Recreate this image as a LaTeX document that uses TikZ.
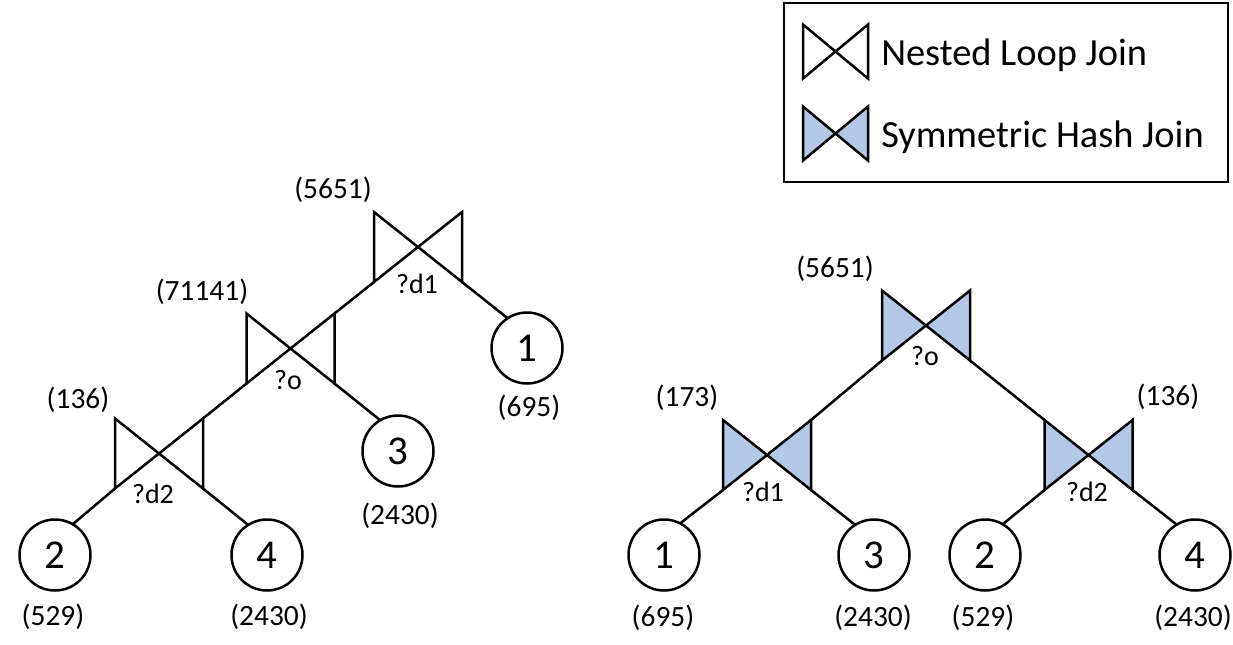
\documentclass[tikz,border=0pt]{standalone}
\usepackage{fontspec}
\setmainfont{Carlito}
\definecolor{shj}{HTML}{B4C7E7}
\newcommand\drawbt[2][white]{\draw[fill=#1,line join=miter] (#2.north west) -- (#2.south east) -- (#2.north east) -- (#2.south west) -- cycle;}
\begin{document}
\begin{tikzpicture}[x=0.5pt,y=-0.5pt, line width=1.25pt,
 bt/.style={minimum width=44pt,minimum height=35pt,inner sep=0pt,outer sep=0pt},
 lbt/.style={minimum width=32.5pt,minimum height=27pt,inner sep=0pt,outer sep=0pt},
 rel/.style={circle,draw,minimum size=35.5pt,inner sep=0pt,outer sep=0pt,font=\fontsize{20.5}{24}\selectfont},
 cnt/.style={font=\fontsize{14.7}{18}\selectfont,inner sep=0pt},
 var/.style={font=\fontsize{14}{17}\selectfont,inner sep=0pt},
 leg/.style={font=\fontsize{19.2}{23}\selectfont,anchor=base west,inner sep=0pt}]
\useasboundingbox (0,0) rectangle (1233,644);

% legend
\node (legend) [draw, minimum width=222pt, minimum height=89.5pt, inner sep=0pt] at (1006,92.5) {};
\node (lnlj) [lbt] at (835.5,51.5) {};
\node (lshj) [lbt] at (835.5,133.5) {};
\drawbt{lnlj}
\drawbt[shj]{lshj}
\node (tnlj) [leg] at (880,65) {Nested Loop Join};
\node (tshj) [leg] at (880,147) {Symmetric Hash Join};

% left tree
\node (Ld1) [bt] at (418,247) {};
\node (Lo)  [bt] at (290.5,348.5) {};
\node (Ld2) [bt] at (159,453.5) {};
\drawbt{Ld1}
\drawbt{Lo}
\drawbt{Ld2}
\node (Ld1v) [var] at (417,284) {?d1};
\node (Lov)  [var] at (288,380) {?o};
\node (Ld2v) [var] at (153,494) {?d2};
\node (Ld1c) [cnt] at (333,190) {(5651)};
\node (Loc)  [cnt] at (202,292) {(71141)};
\node (Ld2c) [cnt] at (78,400) {(136)};

\node (Lc2) [rel] at (55,555) {2};
\node (Lc4) [rel] at (267,555) {4};
\node (Lc3) [rel] at (398,451) {3};
\node (Lc1) [rel] at (527,348) {1};
\node (Lc2n) [cnt] at (53,617) {(529)};
\node (Lc4n) [cnt] at (269,617) {(2430)};
\node (Lc3n) [cnt] at (400,516) {(2430)};
\node (Lc1n) [cnt] at (529,408) {(695)};

\draw (Ld2.north east) -- (Lo.south west);
\draw (Lo.north east) -- (Ld1.south west);
\draw (Ld1.south east) -- (Lc1.123);
\draw (Lo.south east) -- (Lc3.120);
\draw (Ld2.south west) -- (Lc2.60);
\draw (Ld2.south east) -- (Lc4.122);

% right tree
\node (Ro)  [bt] at (926,325.5) {};
\node (Rd1) [bt] at (767,455) {};
\node (Rd2) [bt] at (1088.5,455) {};
\drawbt[shj]{Ro}
\drawbt[shj]{Rd1}
\drawbt[shj]{Rd2}
\node (Rov)  [var] at (925,356) {?o};
\node (Rd1v) [var] at (763,492) {?d1};
\node (Rd2v) [var] at (1087,492) {?d2};
\node (Roc)  [cnt] at (835,269) {(5651)};
\node (Rd1c) [cnt] at (687,398) {(173)};
\node (Rd2c) [cnt] at (1168,397) {(136)};

\node (Rc1) [rel] at (664,555) {1};
\node (Rc3) [rel] at (874,555) {3};
\node (Rc2) [rel] at (985,555) {2};
\node (Rc4) [rel] at (1195,555) {4};
\node (Rc1n) [cnt] at (663,618) {(695)};
\node (Rc3n) [cnt] at (873,618) {(2430)};
\node (Rc2n) [cnt] at (983,618) {(529)};
\node (Rc4n) [cnt] at (1193,618) {(2430)};

\draw (Ro.south west) -- (Rd1.north east);
\draw (Ro.south east) -- (Rd2.north west);
\draw (Rd1.south west) -- (Rc1.63);
\draw (Rd1.south east) -- (Rc3.122);
\draw (Rd2.south west) -- (Rc2.60);
\draw (Rd2.south east) -- (Rc4.121);
\end{tikzpicture}
\end{document}
